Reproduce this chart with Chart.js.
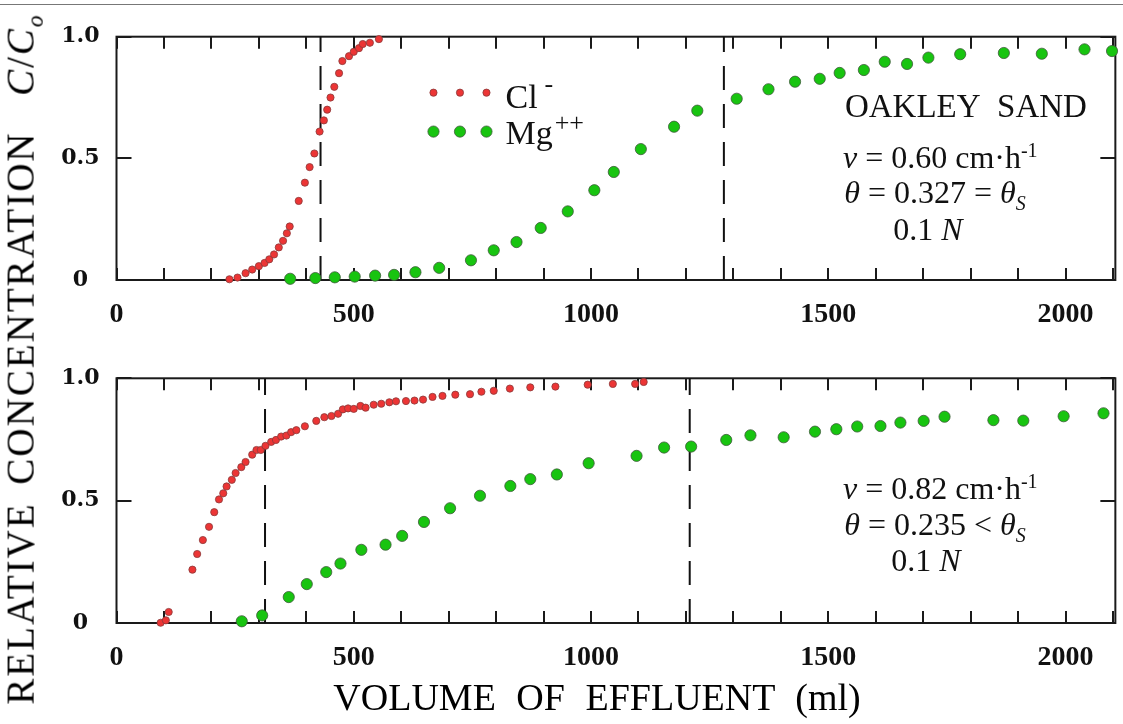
<!DOCTYPE html>
<html>
<head>
<meta charset="utf-8">
<script src="https://cdn.jsdelivr.net/npm/chart.js@4.4.1/dist/chart.umd.min.js"></script>
<style>
body{margin:0;background:#fff;width:1123px;height:724px;overflow:hidden;position:relative;font-family:"Liberation Serif",serif;color:#111;}
#rule{position:absolute;left:0;top:4px;width:1123px;border-top:1px solid #777;}
#c1{position:absolute;left:0;top:0;}
#c2{position:absolute;left:0;top:340px;}
#ytitle{position:absolute;left:23px;top:359px;transform:translate(-50%,-50%) rotate(-90deg);white-space:nowrap;font-size:39px;letter-spacing:2px;word-spacing:6px;color:#000;}
#xtitle{position:absolute;left:597px;top:697px;transform:translate(-50%,-50%);white-space:nowrap;font-size:38px;word-spacing:11px;color:#000;}
sub{font-size:60%;}
</style>
</head>
<body>
<div id="rule"></div>
<canvas id="c1" width="1123" height="345"></canvas>
<canvas id="c2" width="1123" height="348"></canvas>
<div id="ytitle">RELATIVE CONCENTRATION &nbsp;<i>C</i>/<i>C<sub>o</sub></i></div>
<div id="xtitle">VOLUME OF EFFLUENT (ml)</div>
<script>

// ---- top panel: saturated (theta = theta_s) ----
let clTopX = [238,255,272,286,300,312,322,332,342,351,359,365,384,397,407,417,428,437,444,451,459,469,476,490,500,511,519,534,553];
let clTopY = [0.003,0.01,0.028,0.043,0.057,0.07,0.085,0.105,0.134,0.161,0.192,0.22,0.325,0.40,0.464,0.52,0.61,0.656,0.70,0.75,0.794,0.85,0.90,0.92,0.938,0.953,0.97,0.975,0.99];

let mgTopX = [366,419,460,502,545,585,630,680,747,795,843,894,951,1007,1048,1105,1175,1224,1307,1374,1430,1482,1524,1575,1619,1666,1711,1778,1870,1950,2040,2098];
let mgTopY = [0.005,0.008,0.011,0.014,0.018,0.021,0.032,0.05,0.081,0.122,0.156,0.214,0.282,0.369,0.444,0.538,0.63,0.696,0.745,0.784,0.815,0.827,0.851,0.863,0.897,0.888,0.914,0.928,0.933,0.93,0.948,0.941];

let frontsTop = [430,1280];

// ---- bottom panel: unsaturated ----
let clBotX = [93,104,110,160,170,182,195,206,216,225,232,243,251,263,272,286,295,304,314,326,336,347,358,368,379,397,421,438,453,467,477,488,500,514,525,542,558,575,589,610,628,646,666,687,714,745,769,795,829,872,925,993,1046,1093,1111];
let clBotY = [0.001,0.011,0.045,0.218,0.282,0.339,0.393,0.453,0.505,0.53,0.558,0.585,0.613,0.637,0.658,0.688,0.707,0.707,0.724,0.74,0.748,0.762,0.766,0.78,0.788,0.804,0.826,0.841,0.846,0.855,0.873,0.877,0.875,0.887,0.88,0.892,0.896,0.902,0.906,0.907,0.909,0.913,0.924,0.928,0.933,0.935,0.945,0.949,0.958,0.963,0.966,0.974,0.977,0.977,0.985];

let mgBotX = [264,307,363,401,442,472,516,567,602,648,703,766,830,872,928,995,1096,1154,1211,1285,1336,1406,1472,1517,1561,1610,1652,1701,1745,1848,1911,1996,2080];
let mgBotY = [0.007,0.031,0.106,0.159,0.208,0.243,0.299,0.32,0.356,0.413,0.469,0.52,0.56,0.588,0.607,0.653,0.683,0.717,0.721,0.748,0.767,0.759,0.782,0.792,0.803,0.805,0.819,0.826,0.843,0.829,0.827,0.845,0.857];

let frontsBot = [313,1208];

let xTicks = [0,500,1000,1500,2000];
let xMinorStep = 100;
let yTicks = [0,0.5,1.0];

let clColor = "#ec3535";
let mgColor = "#18c410";

function pts(xs, ys){
return xs.map((x,i)=>({x:x, y:ys[i]}));
}

function dashLine(x){
return {
type:"line",
data:[{x:x,y:0},{x:x,y:1}],
borderColor:"#111",
borderWidth:2,
borderDash:[24,14],
pointRadius:0,
showLine:true,
order:3,
clip:false
};
}

function rich(ctx, parts, cx, y, size){
let items = parts.map(p=>{
let t=p[0], s=p[1]||"";
let small = s.indexOf("sup")>=0 || s.indexOf("sub")>=0;
let ital = s.indexOf("it")>=0;
let f = (ital?"italic ":"") + Math.round(small?size*0.62:size) + "px 'Liberation Serif'";
ctx.font=f;
return {t:t, s:s, f:f, w:ctx.measureText(t).width};
});
let total = items.reduce((a,b)=>a+b.w,0);
let x = cx-total/2;
items.forEach(it=>{
ctx.font=it.f;
let dy=0;
if(it.s.indexOf("sup")>=0) dy=-size*0.36;
if(it.s.indexOf("sub")>=0) dy=size*0.22;
ctx.fillText(it.t,x,y+dy);
x+=it.w;
});
}

// frame + inward ticks on all four sides
const framePlugin = {
id:"frame",
beforeDatasetsDraw(chart){
let ctx=chart.ctx, a=chart.chartArea, sx=chart.scales.x, sy=chart.scales.y;
ctx.save();
ctx.strokeStyle="#1a1a1a";
ctx.lineWidth=2;
ctx.strokeRect(a.left,a.top,a.right-a.left,a.bottom-a.top);
ctx.beginPath();
for(let v=sx.min; v<=sx.max; v+=xMinorStep){
let px=Math.round(sx.getPixelForValue(v));
ctx.moveTo(px,a.bottom); ctx.lineTo(px,a.bottom-12);
ctx.moveTo(px,a.top); ctx.lineTo(px,a.top+12);
}
sy.ticks.forEach(t=>{
let py=Math.round(sy.getPixelForValue(t.value));
ctx.moveTo(a.left,py); ctx.lineTo(a.left+15,py);
ctx.moveTo(a.right,py); ctx.lineTo(a.right-15,py);
});
ctx.stroke();
ctx.restore();
}
};

// notes and legend drawn after the points
const notesPlugin = {
id:"notes",
afterDatasetsDraw(chart, args, opts){
let ctx=chart.ctx, sx=chart.scales.x, sy=chart.scales.y;
ctx.save();
ctx.fillStyle="#111";
ctx.textAlign="left";
ctx.textBaseline="alphabetic";
(opts.lines||[]).forEach(l=>{
rich(ctx, l.parts, sx.getPixelForValue(l.x), sy.getPixelForValue(l.y), l.size);
});
if(opts.legend){
let lg=opts.legend;
let x0=sx.getPixelForValue(lg.x);
lg.rows.forEach(r=>{
let ds=chart.data.datasets[r.ds];
let py=sy.getPixelForValue(r.y);
for(let k=0;k<3;k++){
ctx.beginPath();
ctx.arc(x0+k*26.5,py,ds.pointRadius,0,Math.PI*2);
ctx.fillStyle=ds.backgroundColor;
ctx.fill();
ctx.lineWidth=ds.borderWidth;
ctx.strokeStyle=ds.borderColor;
ctx.stroke();
}
ctx.fillStyle="#111";
ctx.textAlign="left";
ctx.font="34px 'Liberation Serif'";
let tx=x0+72;
ctx.fillText(r.label,tx,py+r.base);
let w=ctx.measureText(r.label).width;
ctx.font="26px 'Liberation Serif'";
ctx.fillText(r.sup,tx+w+r.gap,py+r.base+r.supDy);
});
}
ctx.restore();
}
};

function makeChart(id, padTop, cl, mg, fronts, notes){
return new Chart(document.getElementById(id),{
type:"scatter",
data:{
datasets:[
{
label:"Cl-",
data:cl,
backgroundColor:clColor,
borderColor:"#8a3a3a",
borderWidth:0.8,
pointRadius:3.6,
order:1,
clip:false
},
{
label:"Mg++",
data:mg,
backgroundColor:mgColor,
borderColor:"#3d5a3a",
borderWidth:0.8,
pointRadius:5.6,
order:2,
clip:false
},
dashLine(fronts[0]),
dashLine(fronts[1])
]
},
options:{
responsive:false,
animation:false,
events:[],
layout:{padding:{top:padTop,right:3,left:0,bottom:0}},
plugins:{legend:{display:false},tooltip:{enabled:false},notes:notes},
scales:{
x:{
type:"linear",
min:0,
max:2105,
grid:{display:false},
border:{display:false},
afterFit(s){ s.height=65; },
afterBuildTicks(s){
let t=[];
for(let v=0; v<=s.max; v+=xMinorStep) t.push({value:v});
s.ticks=t;
},
ticks:{
autoSkip:false,
maxRotation:0,
padding:10,
color:"#111",
font:{family:"Liberation Serif",weight:"bold",size:28},
callback:v=>xTicks.indexOf(v)>=0 ? String(v) : ""
}
},
y:{
min:0,
max:1,
grid:{display:false,drawTicks:false},
border:{display:false},
afterFit(s){ s.width=116.5; },
ticks:{
stepSize:0.5,
padding:17,
crossAlign:"center",
color:"#111",
font:{family:"DejaVu Serif",weight:"bold",size:22},
callback:v=>yTicks.indexOf(v)<0 ? "" : (v===0 ? "0" : v.toFixed(1))
}
}
}
},
plugins:[framePlugin,notesPlugin]
});
}

makeChart("c1",36.7,pts(clTopX,clTopY),pts(mgTopX,mgTopY),frontsTop,{
lines:[
{x:1790,y:0.671,size:33,parts:[["OAKLEY  SAND"]]},
{x:1736,y:0.459,size:32,parts:[["v","it"],[" = 0.60 cm·h"],["-1","sup"]]},
{x:1725,y:0.315,size:32,parts:[["θ","it"],[" = 0.327 = "],["θ","it"],["S","itsub"]]},
{x:1710,y:0.164,size:32,parts:[["0.1 "],["N","it"]]}
],
legend:{
x:668,
rows:[
{ds:0,y:0.77,label:"Cl",sup:"-",base:15,gap:7,supDy:-16},
{ds:1,y:0.61,label:"Mg",sup:"++",base:12,gap:2,supDy:-13}
]
}
});

makeChart("c2",38.3,pts(clBotX,clBotY),pts(mgBotX,mgBotY),frontsBot,{
lines:[
{x:1736,y:0.506,size:32,parts:[["v","it"],[" = 0.82 cm·h"],["-1","sup"]]},
{x:1725,y:0.36,size:32,parts:[["θ","it"],[" = 0.235 < "],["θ","it"],["S","itsub"]]},
{x:1706,y:0.211,size:32,parts:[["0.1 "],["N","it"]]}
]
});

</script>
</body>
</html>
